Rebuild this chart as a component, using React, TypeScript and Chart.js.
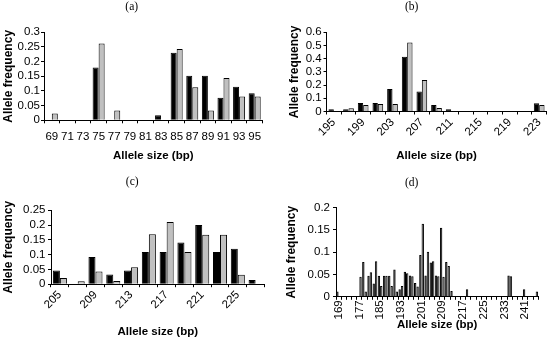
import React, { useEffect, useRef } from 'react';
import { Chart, registerables } from 'chart.js';

Chart.register(...registerables);

// ---------- data ----------
const aSizes = ['69', '71', '73', '75', '77', '79', '81', '83', '85', '87', '89', '91', '93', '95'];
const aBlack = [0, 0, 0, 0.18, 0, 0, 0, 0.017, 0.23, 0.152, 0.152, 0.077, 0.114, 0.092];
const aGray = [0.023, 0, 0, 0.262, 0.033, 0, 0, 0, 0.243, 0.113, 0.033, 0.144, 0.081, 0.081];

const bSizes = ['195', '197', '199', '201', '203', '205', '207', '209', '211', '213', '215', '217', '219', '221', '223'];
const bBlack = [0.017, 0.017, 0.064, 0.064, 0.17, 0.415, 0.152, 0.05, 0.017, 0, 0, 0, 0, 0, 0.063];
const bGray = [0, 0.025, 0.05, 0.057, 0.057, 0.522, 0.238, 0.027, 0, 0, 0, 0, 0, 0, 0.05];

const cSizes = ['205', '207', '209', '211', '213', '215', '217', '219', '221', '223', '225', '227'];
const cBlack = [0.046, 0, 0.092, 0.033, 0.046, 0.109, 0.109, 0.141, 0.2, 0.109, 0.12, 0.014];
const cGray = [0.021, 0.01, 0.043, 0.011, 0.057, 0.169, 0.21, 0.109, 0.167, 0.167, 0.032, 0];

const dSizes = [
  '169', '171', '173', '175', '177', '179', '181', '183', '185', '187',
  '189', '191', '193', '195', '197', '199', '201', '203', '205', '207',
  '209', '211', '213', '215', '217', '219', '221', '223', '225', '227',
  '229', '231', '233', '235', '237', '239', '241', '243', '245',
];
const dBlack = [
  0.012, 0, 0, 0, 0, 0.078, 0.047, 0.03, 0.047, 0.047,
  0.047, 0.061, 0.017, 0.056, 0.048, 0.031, 0.094, 0.048, 0.077, 0.048,
  0.155, 0.078, 0.013, 0, 0, 0.017, 0, 0, 0, 0,
  0, 0, 0, 0.048, 0, 0, 0.017, 0, 0,
];
const dGray = [
  0, 0, 0, 0, 0.045, 0.012, 0.055, 0.08, 0.024, 0.047,
  0.024, 0.012, 0.024, 0.053, 0.046, 0.023, 0.164, 0.101, 0.08, 0.046,
  0.045, 0.069, 0, 0, 0, 0, 0, 0, 0, 0,
  0, 0, 0, 0.046, 0, 0, 0, 0, 0.012,
];

const xTitle = 'Allele size (bp)';
const yTitle = 'Allele frequency';

// ---------- layout / style ----------
const SANS = "'Liberation Sans', Arial, sans-serif";
const SERIF = "'Liberation Serif', 'Times New Roman', serif";

type Spec = {
  title: string;
  left: number;
  top: number;
  labels: string[];
  black: number[];
  gray: number[];
  yMax: number;
  yStep: number;
  every: number;
  rotation: number;
  padL: number;
  padR: number;
  titleTop: number;
  titleBottom: number;
  yWidth: number;
  xHeight: number;
  xTitlePad: number;
  yTitlePad: number;
  yTickPad: number;
  xTickPad: number;
  catPct: number;
  border: number;
  grayFill: string;
};

const specs: Spec[] = [
  {
    title: '(a)', left: 0, top: 0, labels: aSizes, black: aBlack, gray: aGray,
    yMax: 0.3, yStep: 0.05, every: 1, rotation: 0,
    padL: 1, padR: 12.5, titleTop: 0, titleBottom: 18.5, yWidth: 43, xHeight: 49.7,
    xTitlePad: 7.6, yTitlePad: 0.3, yTickPad: 1, xTickPad: 6.7, catPct: 0.77, border: 1, grayFill: '#c0c0c0',
  },
  {
    title: '(b)', left: 275, top: 0, labels: bSizes, black: bBlack, gray: bGray,
    yMax: 0.6, yStep: 0.1, every: 2, rotation: 45,
    padL: 0, padR: 1.7, titleTop: 0, titleBottom: 18.5, yWidth: 51.5, xHeight: 58.5,
    xTitlePad: 7.5, yTitlePad: 12.8, yTickPad: 1.8, xTickPad: 1, catPct: 0.73, border: 1, grayFill: '#c0c0c0',
  },
  {
    title: '(c)', left: 0, top: 170, labels: cSizes, black: cBlack, gray: cGray,
    yMax: 0.25, yStep: 0.05, every: 2, rotation: 45,
    padL: 0, padR: 10.5, titleTop: 5.4, titleBottom: 21.1, yWidth: 51, xHeight: 55.8,
    xTitlePad: 0.8, yTitlePad: 1.8, yTickPad: 2.5, xTickPad: 1, catPct: 0.79, border: 1, grayFill: '#c0c0c0',
  },
  {
    title: '(d)', left: 275, top: 170, labels: dSizes, black: dBlack, gray: dGray,
    yMax: 0.2, yStep: 0.05, every: 4, rotation: 90,
    padL: 0, padR: 1.7, titleTop: 5.8, titleBottom: 18.1, yWidth: 61, xHeight: 43.2,
    xTitlePad: 7.8, yTitlePad: 9.5, yTickPad: 3, xTickPad: 0.5, catPct: 0.92, border: 1, grayFill: '#606060',
  },
];

function buildConfig(s: Spec): any {
  return {
    type: 'bar',
    data: {
      labels: s.labels,
      datasets: [
        {
          data: s.black,
          backgroundColor: '#000000',
          borderColor: '#000000',
          borderWidth: s.border,
          categoryPercentage: s.catPct,
          barPercentage: 1,
        },
        {
          data: s.gray,
          backgroundColor: s.grayFill,
          borderColor: '#000000',
          borderWidth: s.border,
          categoryPercentage: s.catPct,
          barPercentage: 1,
        },
      ],
    },
    options: {
      responsive: false,
      animation: false,
      devicePixelRatio: 1,
      layout: { padding: { left: s.padL, right: s.padR, top: 0, bottom: 0 } },
      plugins: {
        legend: { display: false },
        tooltip: { enabled: false },
        title: {
          display: true,
          text: s.title,
          color: '#000',
          font: { family: SERIF, size: 11.5, weight: 'normal' },
          padding: { top: s.titleTop, bottom: s.titleBottom },
        },
      },
      scales: {
        x: {
          type: 'category',
          offset: true,
          grid: {
            display: true,
            offset: true,
            drawOnChartArea: false,
            drawTicks: true,
            tickLength: 3,
            color: '#000',
            lineWidth: 1,
          },
          border: { display: true, color: '#000', width: 1 },
          ticks: {
            autoSkip: false,
            minRotation: s.rotation,
            maxRotation: s.rotation,
            padding: s.xTickPad,
            color: '#000',
            font: { family: SANS, size: 11.5 },
            callback: (_v: any, i: number) => (i % s.every === 0 ? s.labels[i] : ''),
          },
          title: {
            display: true,
            text: xTitle,
            color: '#000',
            font: { family: SANS, size: 11.5, weight: 'bold' },
            padding: { top: 0, bottom: s.xTitlePad },
          },
          afterFit: (scale: any) => {
            scale.height = s.xHeight;
          },
        },
        y: {
          min: 0,
          max: s.yMax,
          grid: {
            display: true,
            drawOnChartArea: false,
            drawTicks: true,
            tickLength: 3,
            color: '#000',
            lineWidth: 1,
          },
          border: { display: true, color: '#000', width: 1 },
          ticks: {
            stepSize: s.yStep,
            autoSkip: false,
            maxTicksLimit: 20,
            padding: s.yTickPad,
            color: '#000',
            font: { family: SANS, size: 11.5, lineHeight: 0.8 },
            callback: (v: any) => String(Number(Number(v).toFixed(2))),
          },
          title: {
            display: true,
            text: yTitle,
            color: '#000',
            font: { family: SANS, size: 12, weight: 'bold' },
            padding: { top: s.yTitlePad, bottom: 0 },
          },
          afterFit: (scale: any) => {
            scale.width = s.yWidth;
          },
        },
      },
    },
  };
}

function Panel({ spec }: { spec: Spec }) {
  const ref = useRef<HTMLCanvasElement>(null);
  useEffect(() => {
    if (!ref.current) return;
    const chart = new Chart(ref.current, buildConfig(spec));
    return () => chart.destroy();
  }, [spec]);
  return (
    <canvas
      ref={ref}
      width={275}
      height={170}
      style={{ position: 'absolute', left: spec.left, top: spec.top, width: 275, height: 170 }}
    />
  );
}

export default function App() {
  return (
    <div style={{ position: 'fixed', left: 0, top: 0, width: 550, height: 340, background: '#fff' }}>
      {specs.map((s) => (
        <Panel key={s.title} spec={s} />
      ))}
    </div>
  );
}
